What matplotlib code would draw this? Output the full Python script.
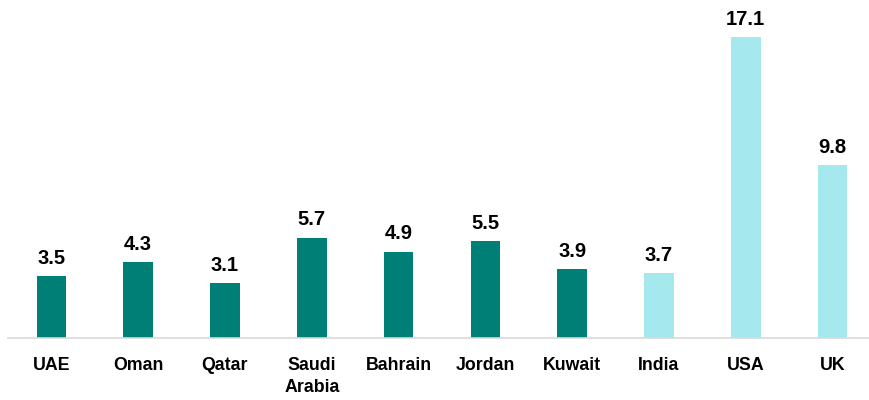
import matplotlib.pyplot as plt

countries = ["UAE", "Oman", "Qatar", "Saudi\nArabia", "Bahrain", "Jordan", "Kuwait", "India", "USA", "UK"]
values = [3.5, 4.3, 3.1, 5.7, 4.9, 5.5, 3.9, 3.7, 17.1, 9.8]
is_gcc = [True, True, True, True, True, True, True, False, False, False]

dark_teal = "#007F77"
light_cyan = "#A5E8EE"

plt.rcParams["font.family"] = ["Liberation Sans", "DejaVu Sans"]

fig = plt.figure(figsize=(8.69, 4.0), dpi=100)
ax = fig.add_axes([8 / 869, 62 / 400, 861 / 869, 338 / 400])

colors = [dark_teal if g else light_cyan for g in is_gcc]
x = range(len(countries))
bars = ax.bar(x, values, width=0.34, color=colors)

for b, v in zip(bars, values):
    ax.annotate(f"{v:.1f}", (b.get_x() + b.get_width() / 2, v),
                xytext=(0, 6), textcoords="offset points",
                ha="center", va="bottom", fontsize=14.5, fontweight="bold", color="black")

ax.set_xlim(-0.5, 9.42)
ax.set_ylim(0, 19.2)
ax.set_xticks(list(x))
ax.set_xticklabels(countries, fontsize=12.8, fontweight="bold", va="top", linespacing=1.35)
ax.tick_params(axis="x", length=0, pad=14)
ax.set_yticks([])
for side in ["top", "right", "left"]:
    ax.spines[side].set_visible(False)
ax.spines["bottom"].set_color("#D9D9D9")
ax.spines["bottom"].set_linewidth(1.2)

fig.savefig("out.png", dpi=100)
